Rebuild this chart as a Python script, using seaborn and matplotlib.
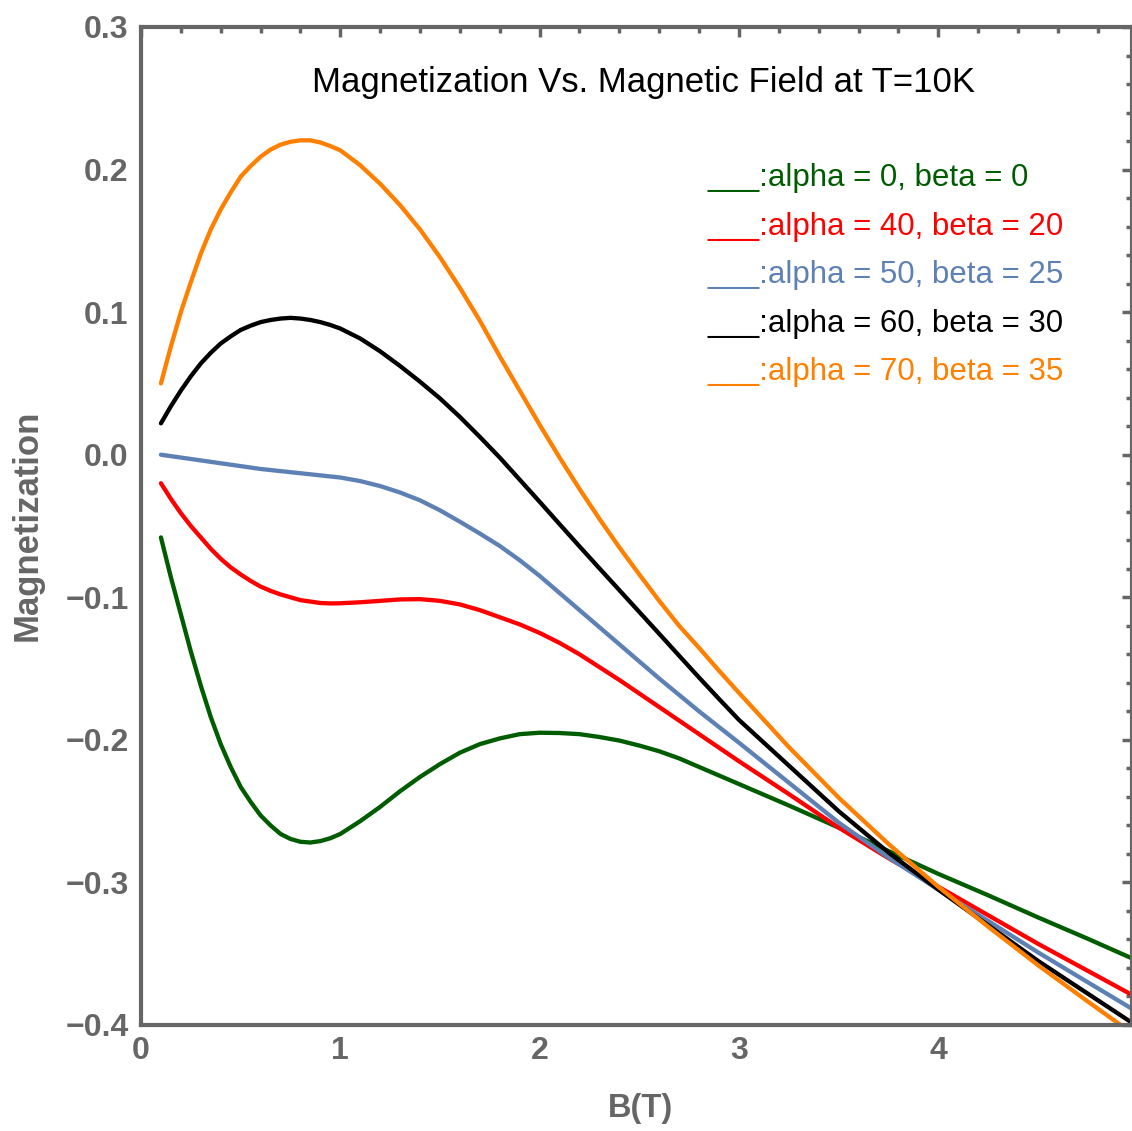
import matplotlib
matplotlib.use("Agg")
import matplotlib.pyplot as plt
import seaborn as sns
import pandas as pd
from matplotlib.ticker import MultipleLocator

sns.set_theme(style="white")
plt.rcParams['font.family'] = ['Liberation Sans', 'DejaVu Sans']

# Field values B(T)
B = [0.1, 0.15, 0.2, 0.25, 0.3, 0.35, 0.4, 0.45, 0.5, 0.55, 0.6, 0.65, 0.7, 0.75,
     0.8, 0.85, 0.9, 0.95, 1.0,
     1.1, 1.2, 1.3, 1.4, 1.5, 1.6, 1.7, 1.8, 1.9, 2.0,
     2.1, 2.2, 2.3, 2.4, 2.5, 2.6, 2.7, 2.8, 2.9, 3.0,
     3.25, 3.5, 3.75, 4.0, 4.25, 4.5, 4.75, 5.0]

m_a0 = [-0.058, -0.086, -0.112, -0.138, -0.162, -0.184, -0.203, -0.219, -0.233, -0.2435,
        -0.253, -0.260, -0.266, -0.2695, -0.2715, -0.272, -0.271, -0.269, -0.266,
        -0.257, -0.247, -0.236, -0.226, -0.217, -0.209, -0.203, -0.199, -0.196, -0.195,
        -0.1952, -0.196, -0.198, -0.2005, -0.204, -0.208, -0.213, -0.219, -0.225, -0.231,
        -0.246, -0.2615, -0.278, -0.294, -0.309, -0.3245, -0.3395, -0.355]
m_a40 = [-0.020, -0.031, -0.041, -0.050, -0.058, -0.066, -0.073, -0.079, -0.084, -0.0885,
         -0.0925, -0.0955, -0.098, -0.100, -0.102, -0.103, -0.104, -0.1043, -0.1042,
         -0.1035, -0.1025, -0.1015, -0.1013, -0.1025, -0.105, -0.109, -0.114, -0.119, -0.125,
         -0.132, -0.140, -0.149, -0.158, -0.1675, -0.177, -0.1865, -0.196, -0.2055, -0.215,
         -0.238, -0.2615, -0.283, -0.303, -0.323, -0.343, -0.362, -0.381]
m_a50 = [0.000, -0.001, -0.002, -0.003, -0.004, -0.005, -0.006, -0.007, -0.008, -0.009,
         -0.010, -0.01075, -0.0115, -0.01225, -0.013, -0.01375, -0.0145, -0.01525, -0.016,
         -0.0185, -0.022, -0.0265, -0.032, -0.039, -0.047, -0.0553, -0.064, -0.074, -0.085,
         -0.097, -0.109, -0.121, -0.133, -0.145, -0.157, -0.1685, -0.180, -0.191, -0.202,
         -0.230, -0.258, -0.2825, -0.305, -0.327, -0.349, -0.370, -0.391]
m_a60 = [0.022, 0.034, 0.045, 0.055, 0.064, 0.0715, 0.078, 0.083, 0.0875, 0.0905,
         0.093, 0.0945, 0.0955, 0.096, 0.0955, 0.0945, 0.093, 0.091, 0.0885,
         0.0815, 0.0725, 0.0622, 0.0512, 0.0395, 0.0265, 0.0125, -0.002, -0.0175, -0.033,
         -0.0487, -0.0643, -0.0797, -0.095, -0.1103, -0.1256, -0.141, -0.1563, -0.1713, -0.186,
         -0.218, -0.250, -0.279, -0.305, -0.330, -0.355, -0.378, -0.401]
m_a70 = [0.050, 0.076, 0.100, 0.121, 0.141, 0.158, 0.172, 0.184, 0.195, 0.2025,
         0.209, 0.214, 0.2175, 0.2195, 0.2205, 0.2205, 0.219, 0.2165, 0.2135,
         0.203, 0.190, 0.175, 0.158, 0.1385, 0.117, 0.094, 0.069, 0.045, 0.021,
         -0.002, -0.024, -0.045, -0.065, -0.084, -0.1025, -0.120, -0.1355, -0.1515, -0.167,
         -0.205, -0.2405, -0.273, -0.303, -0.331, -0.358, -0.3835, -0.4085]

labels = ["alpha = 0, beta = 0", "alpha = 40, beta = 20", "alpha = 50, beta = 25",
          "alpha = 60, beta = 30", "alpha = 70, beta = 35"]
colors = ["#005c00", "#ff0000", "#5e81b5", "#000000", "#ff8000"]
series = [m_a0, m_a40, m_a50, m_a60, m_a70]

df = pd.concat([pd.DataFrame({"B": B, "M": s, "case": lab}) for s, lab in zip(series, labels)],
               ignore_index=True)

W, H = 1132, 1131
fig = plt.figure(figsize=(W / 100, H / 100), dpi=100)
ax = fig.add_axes([141 / W, 1 - 1025 / H, (W - 141) / W, (1025 - 27) / H])

sns.lineplot(data=df, x="B", y="M", hue="case", palette=dict(zip(labels, colors)),
             estimator=None, sort=False, linewidth=3.1, legend=False, ax=ax)

ax.set_xlim(0, 4.972)
ax.set_ylim(-0.4, 0.3)
ax.set_xlabel("")
ax.set_ylabel("")

gray = "#666666"
for sp in ax.spines.values():
    sp.set_color(gray)
    sp.set_linewidth(3)
    sp.set_visible(True)

ax.xaxis.set_minor_locator(MultipleLocator(0.2))
ax.yaxis.set_minor_locator(MultipleLocator(0.02))
ax.set_yticks([-0.4, -0.3, -0.2, -0.1, 0.0, 0.1, 0.2, 0.3])
ax.set_yticklabels(["\u22120.4", "\u22120.3", "\u22120.2", "\u22120.1", "0.0", "0.1", "0.2", "0.3"])
ax.set_xticks([0, 1, 2, 3, 4])
ax.set_xticklabels(["0", "1", "2", "3", "4"])

ax.tick_params(axis="both", which="major", direction="in", length=7, width=2.5, color=gray,
               top=True, right=True, labelsize=23, labelcolor=gray)
ax.tick_params(axis="both", which="minor", direction="in", length=4, width=2.5, color=gray,
               top=True, right=True)
ax.tick_params(axis="y", which="major", pad=9)
ax.tick_params(axis="x", which="major", pad=8)
for lab in ax.get_xticklabels() + ax.get_yticklabels():
    lab.set_fontweight("bold")

# title inside plot
ax.text(0.5066, 0.9349, "Magnetization Vs. Magnetic Field at T=10K", transform=ax.transAxes,
        ha="center", va="baseline", fontsize=25, color="black",
        bbox=dict(facecolor="white", edgecolor="none", pad=2))

# legend-like colored text
baselines = [0.8407, 0.7916, 0.7435, 0.6944, 0.6463]
for lab, col, yb in zip(labels, colors, baselines):
    ax.text(0.572, yb, "___:" + lab, transform=ax.transAxes, ha="left", va="baseline",
            fontsize=22.5, color=col)

fig.text(27 / W, 1 - 525 / H, "Magnetization", rotation=90, ha="center", va="center",
         fontsize=25, fontweight="bold", color=gray)
fig.text(640 / W, 1 - 1108 / H, "B(T)", ha="center", va="center",
         fontsize=23.5, fontweight="bold", color=gray)

fig.savefig("out.png", dpi=100)
